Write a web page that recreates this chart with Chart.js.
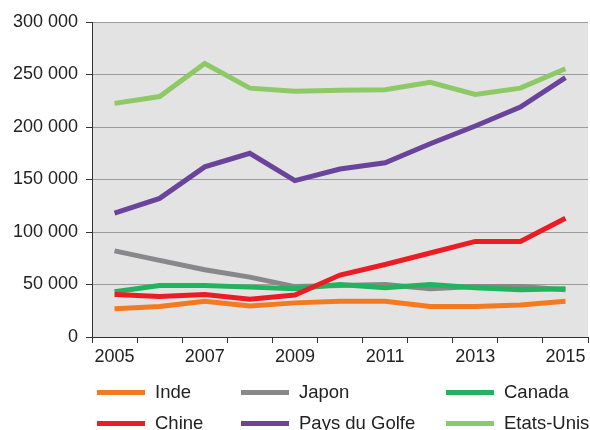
<!DOCTYPE html>
<html>
<head>
<meta charset="utf-8">
<script src="https://cdn.jsdelivr.net/npm/chart.js@4/dist/chart.umd.min.js"></script>
<style>
  body { margin: 0; background: #fff; }
  #wrap { position: relative; width: 590px; height: 430px; }
  #legend { position: absolute; left: 0; top: 0; width: 590px; height: 430px; pointer-events: none;
            font-family: "Liberation Sans", Arial, sans-serif; font-size: 18.5px; color: #222; }
  .item { position: absolute; display: flex; align-items: center; height: 20px; white-space: nowrap; }
  .item span.swatch { display: inline-block; width: 48px; height: 5px; margin-right: 10px; }
</style>
</head>
<body>
<div id="wrap">
  <canvas id="chart" width="590" height="430"></canvas>
  <div id="legend"></div>
</div>
<script>
const years = ['2005', '2006', '2007', '2008', '2009', '2010', '2011', '2012', '2013', '2014', '2015'];
const yTicks = [0, 50000, 100000, 150000, 200000, 250000, 300000];

const seriesNames = ['Inde', 'Japon', 'Canada', 'Chine', 'Pays du Golfe', 'Etats-Unis'];
const seriesColors = ['#F47A20', '#88888A', '#22B35E', '#EC1C24', '#6A449B', '#8DC965'];

const inde    = [27000, 29000, 34000, 29500, 32500, 34000, 34000, 29000, 29000, 30500, 34000];
const japon   = [82000, 73000, 64000, 57000, 48000, 49000, 50000, 46000, 48000, 48000, 45000];
const canada  = [43000, 49000, 49000, 47500, 46000, 50000, 47000, 50000, 47000, 45000, 46000];
const chine   = [40500, 38500, 40500, 36000, 40000, 59000, 69000, 80000, 91000, 91000, 113000];
const golfe   = [118000, 132000, 162000, 175000, 149000, 160000, 166000, 184000, 201000, 219000, 247000];
const usa     = [222500, 229000, 260500, 237000, 234000, 235000, 235500, 242500, 231000, 237000, 255500];

const seriesValues = [inde, japon, canada, chine, golfe, usa];

// plot area background
const plotBg = {
  id: 'plotBg',
  beforeDraw(chart) {
    const { ctx, chartArea: a } = chart;
    ctx.save();
    ctx.fillStyle = '#E3E3E3';
    ctx.fillRect(a.left, a.top, a.right - a.left, a.bottom - a.top);
    ctx.restore();
  }
};

const fmt = v => String(v).replace(/\B(?=(\d{3})+(?!\d))/g, ' ');

new Chart(document.getElementById('chart'), {
  type: 'line',
  data: {
    labels: years,
    datasets: seriesNames.map((name, i) => ({
      label: name,
      data: seriesValues[i],
      borderColor: seriesColors[i],
      backgroundColor: seriesColors[i],
      borderWidth: 5,
      pointRadius: 0,
      tension: 0,
      order: seriesNames.length - i
    }))
  },
  options: {
    responsive: false,
    animation: false,
    layout: { padding: { top: 22, right: 2, bottom: 62, left: 0 } },
    plugins: {
      legend: { display: false },
      tooltip: { enabled: false }
    },
    scales: {
      x: {
        offset: true,
        grid: { offset: true, drawOnChartArea: false, drawTicks: true, tickLength: 6, tickColor: '#333' },
        border: { color: '#333', width: 1 },
        ticks: {
          autoSkip: false, maxRotation: 0, padding: 3,
          color: '#222',
          font: { family: '"Liberation Sans", Arial, sans-serif', size: 18 },
          callback: (v, i) => (i % 2 === 0 ? years[i] : '')
        },
        afterFit(scale) { scale.height = 31; }
      },
      y: {
        min: 0, max: 300000,
        afterBuildTicks(scale) { scale.ticks = yTicks.map(v => ({ value: v })); },
        grid: { color: '#9C9C9C', lineWidth: 1, tickLength: 6, tickColor: '#333' },
        border: { color: '#333', width: 1 },
        ticks: {
          padding: 8,
          color: '#222',
          font: { family: '"Liberation Sans", Arial, sans-serif', size: 18 },
          callback: v => fmt(v)
        },
        afterFit(scale) { scale.width = 92; }
      }
    }
  },
  plugins: [plotBg]
});

// legend, 3 columns x 2 rows
const legend = document.getElementById('legend');
const colX = [97, 241, 446];
const rowY = [382, 413];
seriesNames.forEach((name, i) => {
  const d = document.createElement('div');
  d.className = 'item';
  d.style.left = colX[i % 3] + 'px';
  d.style.top = rowY[Math.floor(i / 3)] + 'px';
  d.innerHTML = `<span class="swatch" style="background:${seriesColors[i]}"></span>${name}`;
  legend.appendChild(d);
});
</script>
</body>
</html>
